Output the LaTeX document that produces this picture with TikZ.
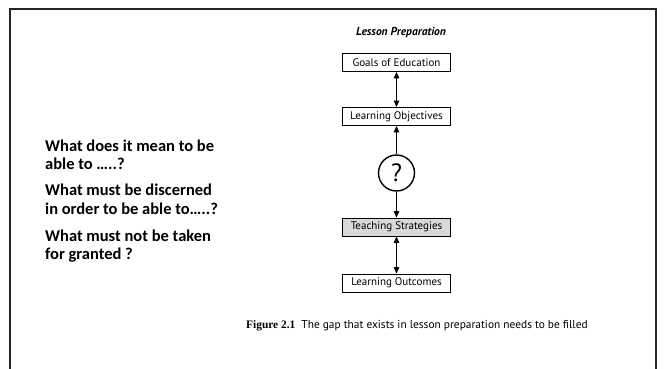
\documentclass[tikz,border=0pt]{standalone}
\usepackage{fontspec}
\usetikzlibrary{arrows.meta}
\newfontfamily\qfont{Carlito}
\newfontfamily\bookfont{PT Sans}
\newfontfamily\figfont{Liberation Serif}
\begin{document}
\begin{tikzpicture}[x=1pt,y=-1pt,
        box/.style ={draw, line width=0.9pt, minimum width=108pt, minimum height=18pt, inner sep=0pt, font=\bookfont\fontsize{11}{12}\selectfont},
        gbox/.style={box, fill=gray!30},
        dbl/.style ={{Triangle[width=5.5pt,length=6.5pt]}-{Triangle[width=5.5pt,length=6.5pt]}, line width=1.1pt},
        sgl/.style ={-{Triangle[width=5.5pt,length=6.5pt]}, line width=1.1pt},
        q/.style   ={anchor=base west, inner sep=0pt, font=\qfont\bfseries\fontsize{16.5}{18}\selectfont}]
    \useasboundingbox (0,0) rectangle (665,369);
% Rahmen
    \draw[line width=2pt, black!85] (10,369) -- (10,9) -- (656,9) -- (656,369);
    \node[inner sep=0pt, anchor=base, font=\bookfont\bfseries\itshape\fontsize{11.5}{12}\selectfont] (title) at (401,36) {Lesson Preparation};
    \node[box]  (goals) at (396.5,62.5) {Goals of Education};
    \node[box]  (obj)   at (396.5,116.5) {Learning Objectives};
    \node[draw, circle, line width=1.4pt, minimum size=36pt, inner sep=0pt, font=\bookfont\fontsize{25}{26}\selectfont] (gap) at (396.5,173) {?};
    \node[gbox] (teach) at (396.5,227) {Teaching Strategies};
    \node[box]  (out)   at (396.5,283) {Learning Outcomes};
    \draw[dbl] (goals) -- (obj);
    \draw[sgl] (gap) -- (obj);
    \draw[sgl] (gap) -- (teach);
    \draw[dbl] (teach) -- (out);
    \node[anchor=base west, inner sep=0pt, font=\bookfont\fontsize{11.4}{12}\selectfont] (cap) at (246,328)
        {{\figfont\bfseries Figure 2.1}\ \ The gap that exists in lesson preparation needs to be filled};
% Fragen links
    \foreach \t/\y [count=\i] in {What does it mean to be/151, able to …..?/170,
        What must be discerned/196, in order to be able to…..?/214,
        What must not be taken/241, for granted ?/259}
        {\node[q] (q\i) at (45,\y) {\t};}
\end{tikzpicture}
\end{document}
